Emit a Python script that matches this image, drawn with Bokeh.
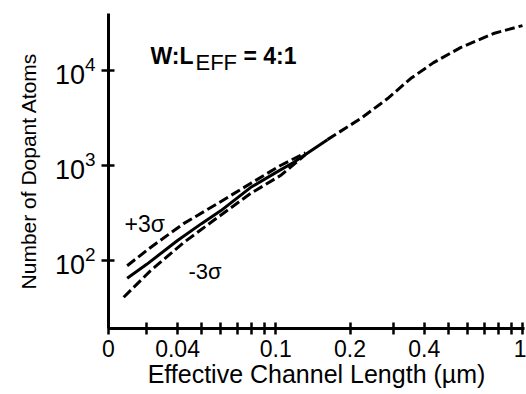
import math
from bokeh.plotting import figure
from bokeh.models import FixedTicker, Label
from bokeh.embed import file_html
from bokeh.resources import INLINE

# ---- data ----
center_x = [0.025, 0.03, 0.04, 0.05, 0.06, 0.079, 0.1, 0.118, 0.162, 0.221, 0.284, 0.352, 0.436, 0.561, 0.763, 1.0]
center_y = [65, 91, 162, 244, 335, 585, 841, 1075, 1870, 3120, 5060, 8220, 12100, 17400, 24500, 29700]

upper_x = [0.025, 0.0311, 0.0423, 0.0581, 0.079, 0.1045, 0.132]
upper_y = [88, 137, 244, 397, 646, 998, 1360]

lower_x = [0.0242, 0.0311, 0.0423, 0.0581, 0.079, 0.1045, 0.132]
lower_y = [41, 78, 154, 283, 506, 783, 1300]

x_ticks = [0.021, 0.03, 0.04, 0.05, 0.06, 0.07, 0.08, 0.09, 0.1,
           0.2, 0.3, 0.4, 0.5, 0.6, 0.7, 0.8, 0.9, 1.0]
x_tick_labels = {0.021: "0", 0.04: "0.04", 0.1: "0.1", 0.2: "0.2", 0.4: "0.4", 1.0: "1"}
y_ticks = [100, 1000, 10000]

# ---- figure ----
X0, X1 = 0.021, 1.019
Y0, Y1 = 19.2, 39800
FONT = "Liberation Sans"

p = figure(width=526, height=394, x_axis_type="log", y_axis_type="log",
           x_range=(X0, X1), y_range=(Y0, Y1),
           output_backend="svg", toolbar_location=None,
           min_border_left=108, min_border_right=2, min_border_top=13, min_border_bottom=66)
p.outline_line_color = None
p.xgrid.grid_line_color = None
p.ygrid.grid_line_color = None
p.background_fill_color = "white"
p.border_fill_color = "white"

split = center_x.index(0.162)
p.line(center_x[:split + 1], center_y[:split + 1], line_color="black", line_width=3)
p.line(center_x[split:], center_y[split:], line_color="black", line_width=3, line_dash="10 4")
p.line(upper_x, upper_y, line_color="black", line_width=3, line_dash="10 4")
p.line(lower_x, lower_y, line_color="black", line_width=3, line_dash="10 4")

for ax in (p.xaxis[0], p.yaxis[0]):
    ax.axis_line_width = 3
    ax.axis_line_color = "black"
    ax.major_tick_line_width = 2.5
    ax.major_tick_line_color = "black"
    ax.minor_tick_line_color = None
    ax.major_label_text_font = FONT
    ax.major_label_text_color = "black"
    ax.axis_label_text_font = FONT
    ax.axis_label_text_font_style = "normal"
    ax.axis_label_text_color = "black"

xa = p.xaxis[0]
xa.ticker = FixedTicker(ticks=x_ticks)
xa.major_label_overrides = {t: x_tick_labels.get(t, "") for t in x_ticks}
xa.major_tick_in = 6
xa.major_tick_out = 6
xa.major_label_standoff = 5
xa.major_label_text_font_size = "23px"
xa.axis_label = "Effective Channel Length (\u00b5m)"
xa.axis_label_text_font_size = "25px"
xa.axis_label_standoff = 0

ya = p.yaxis[0]
ya.ticker = FixedTicker(ticks=y_ticks)
ya.major_tick_in = 6
ya.major_tick_out = 7
ya.major_label_standoff = 6
ya.major_label_text_font_size = "27px"
ya.axis_label = "Number of Dopant Atoms"
ya.axis_label_text_font_size = "21px"
ya.axis_label_standoff = 12


def dx(px):
    return 10 ** (math.log10(X0) + (px - 108) / 416 * math.log10(X1 / X0))


def dy(py):
    return 10 ** (math.log10(Y0) + (328 - py) / 315 * math.log10(Y1 / Y0))


def add_text(txt, px, py, size, bold=False):
    p.add_layout(Label(x=dx(px), y=dy(py), text=txt, text_font=FONT,
                       text_font_size=size, text_color="black",
                       text_font_style="bold" if bold else "normal",
                       text_align="left", text_baseline="alphabetic"))


add_text("W:L", 150, 55, "23px", True)
add_text("EFF", 195, 62, "22px")
add_text("= 4:1", 243, 55, "23px", True)
add_text("+3\u03c3", 124, 223, "23px")
add_text("-3\u03c3", 188, 271, "22px")

open("out.html", "w").write(file_html(p, INLINE))
